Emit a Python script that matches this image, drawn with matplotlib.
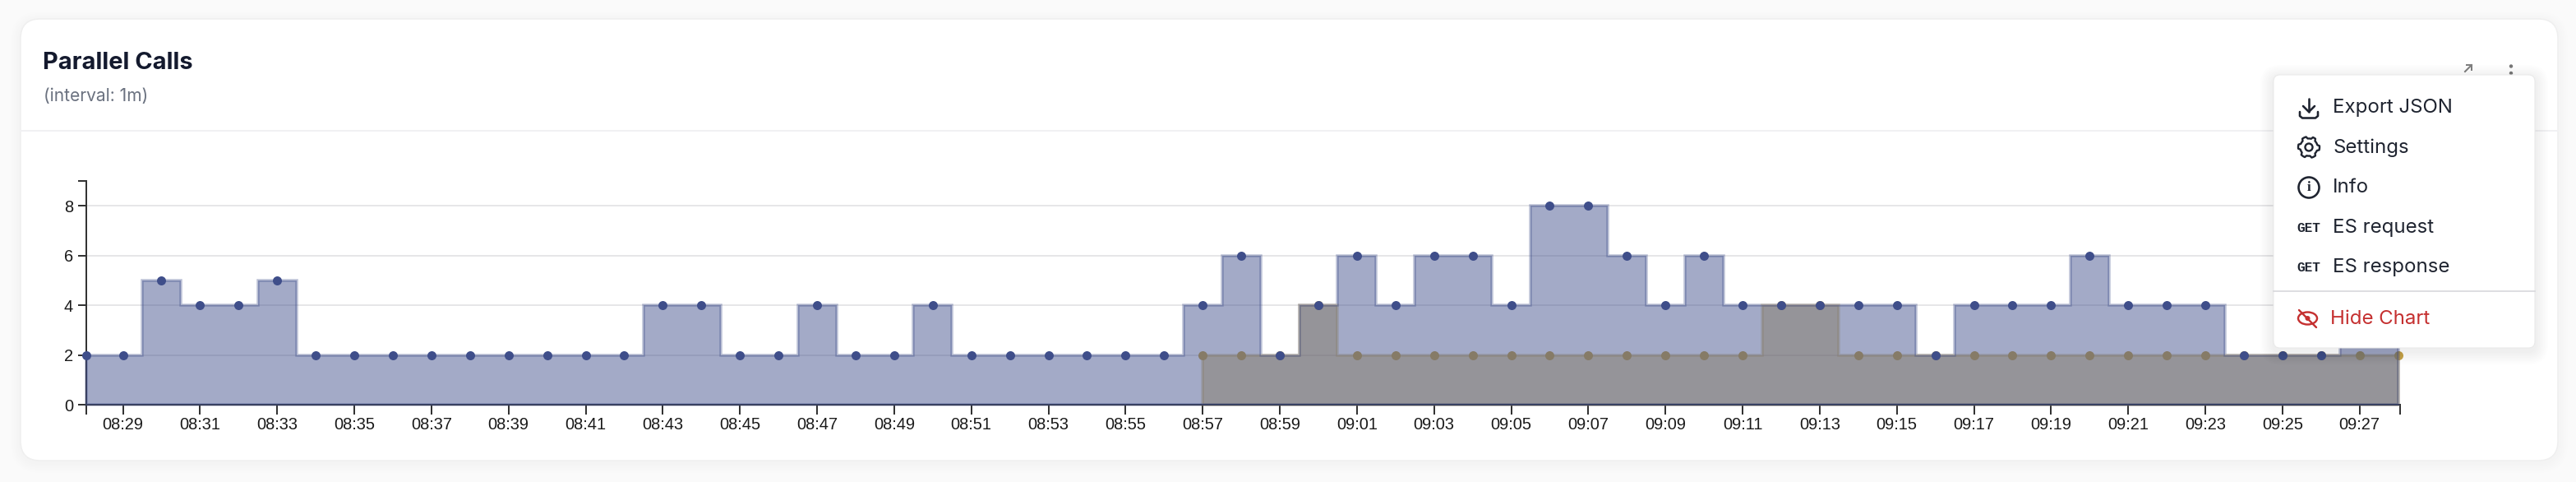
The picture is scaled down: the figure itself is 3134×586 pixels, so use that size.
import matplotlib
matplotlib.use('Agg')
from matplotlib import pyplot as plt
from matplotlib.patches import FancyBboxPatch, Circle, Ellipse, Polygon
import numpy as np

W, H = 3134, 586
PX = 0.72  # one pixel in points at dpi 100

title = 'Parallel Calls'
subtitle = '(interval: 1m)'
menu_items = ['Export JSON', 'Settings', 'Info', 'ES request', 'ES response']
menu_danger = 'Hide Chart'

# minutes after 08:00
window_start = 28.05
window_end = 88.05

blue_minutes = [window_start] + list(range(29, 89))
blue_values = [2, 2, 5, 4, 4, 5, 2, 2, 2, 2, 2, 2, 2, 2, 2, 4, 4, 2, 2, 4, 2, 2, 4,
               2, 2, 2, 2, 2, 2, 4, 6, 2, 4, 6, 4, 6, 6, 4, 8, 8, 6, 4, 6, 4, 4, 4,
               4, 4, 2, 4, 4, 4, 6, 4, 4, 4, 2, 2, 2, 4, 4]

orange_minutes = list(range(57, 89))
orange_values = [2, 2, 2, 4, 2, 2, 2, 2, 2, 2, 2, 2, 2, 2, 2, 4, 4, 2, 2, 2, 2, 2,
                 2, 2, 2, 2, 2, 2, 2, 2, 2, 2]

y_ticks = [0, 2, 4, 6, 8]
y_top = 9
x_label_ticks = list(range(29, 88, 2))

BLUE = '#3f4e8a'
ORANGE = '#c7a548'
INK = '#1f2430'


def label(m):
    return '%02d:%02d' % (8 + m // 60, m % 60)


def rgba(color, alpha):
    return matplotlib.colors.to_rgba(color, alpha)


def box(ax, x0, y0, x1, y1, r, **kw):
    p = FancyBboxPatch((x0 + r, y0 + r), x1 - x0 - 2 * r, y1 - y0 - 2 * r,
                       boxstyle='round,pad=%g,rounding_size=%g' % (r, r), **kw)
    ax.add_patch(p)


def px_axes(fig, zorder):
    ax = fig.add_axes([0, 0, 1, 1], zorder=zorder)
    ax.set_xlim(0, W)
    ax.set_ylim(H, 0)
    ax.axis('off')
    ax.patch.set_alpha(0)
    return ax


def shadow(ax, x0, y0, x1, y1, r, spread, offset, alpha):
    for i in range(spread, 0, -2):
        box(ax, x0 - i, y0 - i + offset, x1 + i, y1 + i + offset, r + i,
            fc=(0, 0, 0, alpha), ec='none')


def draw_card(ax):
    shadow(ax, 25, 23, 3112, 560, 24, 12, 3, 0.004)
    box(ax, 25, 23, 3112, 560, 24, fc='white', ec='#efefef', lw=1.5 * PX)
    ax.plot([25, 3112], [159, 159], color='#f1f1f3', lw=2 * PX)
    ax.text(52, 74, title, fontsize=29 * PX, fontweight='bold', color='#141a2e',
            family='Inter', va='center_baseline')
    ax.text(53, 115, subtitle, fontsize=21 * PX, color='#6b7280',
            family='Inter', va='center_baseline')
    # expand arrow and kebab dots
    ax.plot([2999, 3007], [87, 79], color='#808080', lw=2 * PX)
    ax.plot([3001, 3007, 3007], [79, 79, 85], color='#808080', lw=2 * PX)
    ax.add_patch(Circle((3055, 80.5), 2.2, fc='#777777', ec='none'))
    ax.add_patch(Circle((3055, 89), 2.2, fc='#777777', ec='none'))


def draw_chart(fig):
    ax = fig.add_axes([105 / W, 1 - 492 / H, 2815 / W, 272 / H], zorder=2)
    ax.patch.set_alpha(0)
    ax.set_xlim(window_start, window_end)
    ax.set_ylim(0, y_top)

    for y in y_ticks[1:]:
        ax.axhline(y, color='#e6e6e8', lw=2 * PX, zorder=1)

    series = [(orange_minutes, orange_values, ORANGE, 2), (blue_minutes, blue_values, BLUE, 4)]
    for xs, ys, color, z in series:
        ax.fill_between(xs, ys, 0, step='mid', facecolor=rgba(color, 0.48),
                        edgecolor=rgba(color, 0.36), linewidth=3.5 * PX,
                        zorder=z, clip_on=False, joinstyle='miter')
        ax.plot(xs, ys, 'o', ms=11 * PX, mfc=color, mec='none',
                zorder=z - 1 if color == ORANGE else z + 1, clip_on=False)

    for name in ('top', 'right'):
        ax.spines[name].set_visible(False)
    for name in ('left', 'bottom'):
        ax.spines[name].set_linewidth(2 * PX)
        ax.spines[name].set_color('#333333')
        ax.spines[name].set_zorder(3)

    ax.set_xticks([window_start] + x_label_ticks + [window_end])
    ax.set_xticklabels([''] + [label(m) for m in x_label_ticks] + [''])
    ax.set_yticks(y_ticks + [y_top])
    ax.set_yticklabels([str(v) for v in y_ticks] + [''])
    ax.tick_params(axis='x', length=12 * PX, width=2 * PX, color='#333333', pad=3 * PX,
                   labelsize=20 * PX, labelcolor='#1a1a1a')
    ax.tick_params(axis='y', length=10 * PX, width=2 * PX, color='#333333', pad=6 * PX,
                   labelsize=20 * PX, labelcolor='#1a1a1a')
    for t in ax.get_xticklabels() + ax.get_yticklabels():
        t.set_fontfamily(['Liberation Sans', 'DejaVu Sans'])


def draw_icons(ax):
    k = dict(color=INK, lw=2.6 * PX, solid_capstyle='round', solid_joinstyle='round')
    # download
    ax.plot([2809, 2809], [120, 136], **k)
    ax.plot([2802, 2809, 2816], [129, 136, 129], **k)
    ax.plot([2798, 2798, 2801, 2817, 2820, 2820], [136, 141, 143.5, 143.5, 141, 136], **k)
    # gear
    angles = np.linspace(0, 2 * np.pi, 49)
    radius = 13 - 2.4 * (np.cos(6 * angles) < 0)
    ax.add_patch(Polygon(np.c_[2809 + radius * np.cos(angles), 179 + radius * np.sin(angles)],
                         fc='none', ec=INK, lw=2.4 * PX, joinstyle='round'))
    ax.add_patch(Circle((2809, 179), 4.5, fc='none', ec=INK, lw=2.4 * PX))
    # info
    ax.add_patch(Circle((2809, 228), 12.5, fc='none', ec=INK, lw=2.6 * PX))
    ax.text(2809, 228.5, 'i', fontsize=17 * PX, ha='center', va='center', color=INK,
            family='Liberation Serif', fontweight='bold')
    # GET badges
    for y in (277, 325):
        ax.text(2808.5, y, 'GET', fontsize=16 * PX, ha='center', va='center', color=INK,
                family='Liberation Mono', fontweight='bold')
    # crossed eye
    red = '#c53030'
    ax.add_patch(Ellipse((2807.5, 387), 23, 15, fc='none', ec=red, lw=2.4 * PX))
    ax.add_patch(Circle((2807.5, 387), 3, fc=red, ec='none'))
    ax.plot([2797, 2818], [377, 398], color=red, lw=2.4 * PX, solid_capstyle='round')


def draw_menu(ax):
    shadow(ax, 2766, 91, 3084, 423, 8, 16, 4, 0.006)
    box(ax, 2766, 91, 3084, 423, 8, fc='white', ec='#e8e8e8', lw=1 * PX)
    ax.plot([2766, 3084], [354, 354], color='#d6d6da', lw=1.6 * PX)
    for name, y in zip(menu_items, [129, 177, 226, 275, 323]):
        ax.text(2838, y, name, fontsize=24 * PX, color=INK, family='Inter', va='center_baseline')
    ax.text(2835, 386, menu_danger, fontsize=24 * PX, color='#c53030', family='Inter',
            va='center_baseline')
    draw_icons(ax)


def main():
    fig = plt.figure(figsize=(W / 100, H / 100), dpi=100, facecolor='#fafafa')
    draw_card(px_axes(fig, 1))
    draw_chart(fig)
    draw_menu(px_axes(fig, 3))
    fig.savefig('out.png', dpi=100, facecolor=fig.get_facecolor())


if __name__ == '__main__':
    main()
